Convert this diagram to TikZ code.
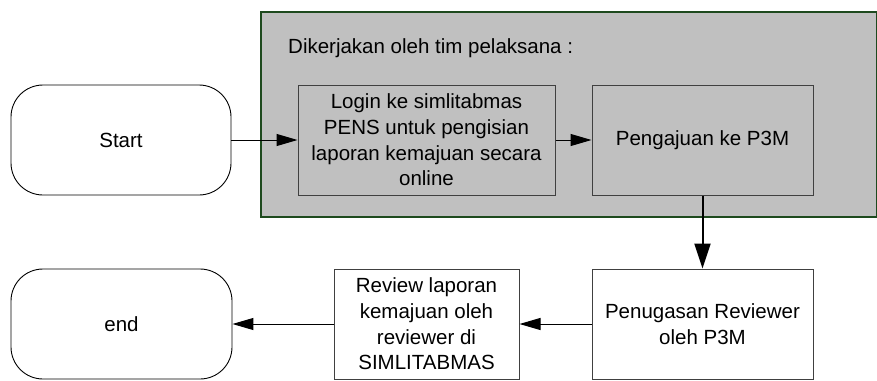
\documentclass[tikz,border=0pt]{standalone}
\usepackage{fontspec}
\setmainfont{Liberation Sans}
\usetikzlibrary{arrows.meta}
\definecolor{boxgray}{HTML}{C0C0C0}
\definecolor{frameg}{HTML}{1E4A1E}
\definecolor{edge}{HTML}{404040}
\begin{document}
\begin{tikzpicture}[x=1pt,y=-1pt,
  txt/.style={font=\fontsize{20.5}{25.7}\selectfont, align=center, inner sep=0pt},
  term/.style={txt, draw=black, line width=0.9pt, rounded corners=32pt, fill=white},
  proc/.style={txt, draw=edge, line width=1pt},
  flow/.style={line width=1pt, -{Triangle[length=21pt,width=12pt]}},
  bigflow/.style={line width=2pt, -{Triangle[length=25pt,width=16pt]}}]
\useasboundingbox (0,0) rectangle (877,380);
\draw[frameg, line width=1.2pt, fill=boxgray] (261,12) rectangle (876.4,217);
\node[txt, anchor=west] (title) at (288,48) {Dikerjakan oleh tim pelaksana :};
\node[term, minimum width=220pt, minimum height=110pt] (start) at (121,140) {Start};
\node[proc, fill=boxgray, minimum width=257pt, minimum height=110pt] (login) at (426.5,140)
  {Login ke simlitabmas\\PENS untuk pengisian\\laporan kemajuan secara\\online};
\node[proc, fill=boxgray, minimum width=221pt, minimum height=110pt] (peng) at (702.5,140) {Pengajuan ke P3M};
\node[proc, fill=white, minimum width=221pt, minimum height=110pt] (penug) at (702.5,324) {Penugasan Reviewer\\oleh P3M};
\node[proc, fill=white, minimum width=185pt, minimum height=110pt] (review) at (426.5,324)
  {Review laporan\\kemajuan oleh\\reviewer di\\SIMLITABMAS};
\node[term, minimum width=221pt, minimum height=110pt] (end) at (121.5,324) {end};
\draw[flow] (start) -- (login);
\draw[flow] (login) -- (peng);
\draw[bigflow] (peng) -- (penug);
\draw[flow] (penug) -- (review);
\draw[flow] (review) -- (end);
\end{tikzpicture}
\end{document}
